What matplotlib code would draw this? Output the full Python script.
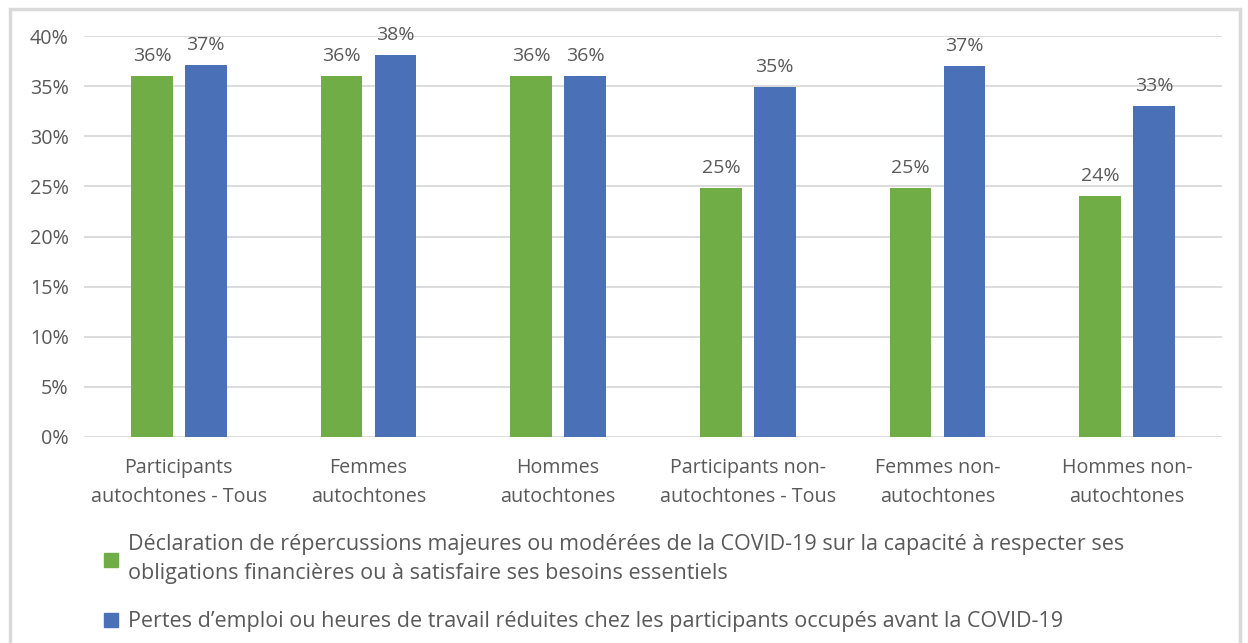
import numpy as np
import matplotlib.pyplot as plt
from matplotlib.patches import Rectangle, Patch

plt.rcParams['font.family'] = ['Open Sans', 'DejaVu Sans']

categories = ['Participants\nautochtones - Tous', 'Femmes\nautochtones', 'Hommes\nautochtones',
              'Participants non-\nautochtones - Tous', 'Femmes non-\nautochtones', 'Hommes non-\nautochtones']
repercussions = [36, 36, 36, 24.8, 24.8, 24.0]
pertes_emploi = [37.1, 38.1, 36, 34.9, 37, 33]
series_labels = ['Déclaration de répercussions majeures ou modérées de la COVID-19 sur la capacité à respecter ses\n'
                 'obligations financières ou à satisfaire ses besoins essentiels',
                 'Pertes d\u2019emploi ou heures de travail réduites chez les participants occupés avant la COVID-19']

green = '#70ad47'
blue = '#4a71b8'
txt = '#595959'

fig = plt.figure(figsize=(12.48, 6.43), dpi=100)
ax = fig.add_axes([84 / 1248, 1 - 437 / 643, (1222 - 84) / 1248, 401 / 643])

x = np.arange(len(categories))
w = 0.22
off = 0.142
b1 = ax.bar(x - off, repercussions, w, color=green, zorder=3)
b2 = ax.bar(x + off, pertes_emploi, w, color=blue, zorder=3)

for bars in (b1, b2):
    for r in bars:
        ax.text(r.get_x() + r.get_width() / 2, r.get_height() + 1.1, f'{r.get_height():.0f}%',
                ha='center', va='bottom', fontsize=14, color=txt)

ax.set_xlim(-0.5, len(categories) - 0.5)
ax.set_ylim(0, 40)
ax.set_yticks(np.arange(0, 41, 5))
ax.set_yticklabels([f'{v}%' for v in range(0, 41, 5)])
ax.set_xticks(x)
ax.set_xticklabels(categories, linespacing=1.6)
ax.tick_params(axis='both', length=0, labelsize=14.2, labelcolor=txt)
ax.tick_params(axis='y', pad=11)
ax.tick_params(axis='x', pad=15)
ax.grid(axis='y', color='#d9d9d9', linewidth=1.3, zorder=0)
for s in ax.spines.values():
    s.set_visible(False)

# legend
handles = [Patch(color=green), Patch(color=blue)]
leg = fig.legend(handles, series_labels, loc='upper left', bbox_to_anchor=(85 / 1248, 1 - 515 / 643),
                 frameon=False, labelcolor=txt, handlelength=0.65, handleheight=0.65,
                 handletextpad=0.45, labelspacing=1.25, prop={'size': 15.5})
for t in leg.get_texts():
    t.set_linespacing(1.5)

# outer border
fig.patches.append(Rectangle((10 / 1248, -0.05), (1230 / 1248), 1 - 9 / 643 + 0.05,
                             transform=fig.transFigure, fill=False, edgecolor='#d9d9d9',
                             linewidth=2.5))

fig.savefig('out.png', dpi=100)
